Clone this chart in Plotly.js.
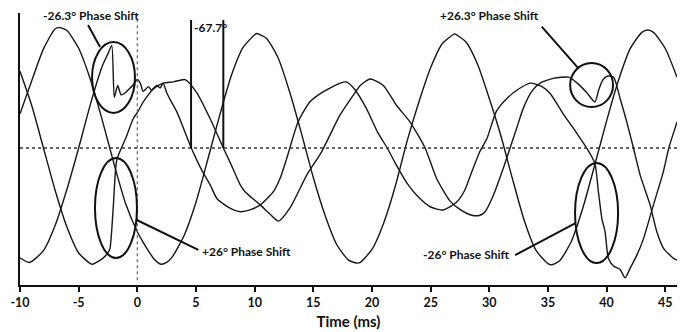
<!DOCTYPE html>
<html>
<head>
<meta charset="utf-8">
<script src="https://cdn.plot.ly/plotly-3.0.1.min.js"></script>
<style>html,body{margin:0;padding:0;background:#fff;}#chart{width:684px;height:332px;}</style>
</head>
<body>
<div id="chart"></div>
<script>
// Phase A (unfaulted phase)
const tA = [-10,-9,-8,-7,-6.6,-6,-5,-4,-3,-2,-1,0,0.5,1,1.5,2,2.5,3,4,5,6,7,8,9,10,10.2,11,12,13,14,15,16,17,18,18.7,19,20,21,22,23,24,25,26,27,27.1,28,29,30,31,32,33,34,35,35.3,36,37,38,39,40,41,42,43,43.5,44,45,46];
const vA = [0.29,0.57,0.84,1.01,1.02,0.995,0.845,0.58,0.24,-0.13,-0.47,-0.71,-0.8,-0.88,-0.95,-0.985,-0.97,-0.92,-0.74,-0.46,-0.1,0.27,0.61,0.85,0.96,0.97,0.93,0.765,0.47,0.12,-0.25,-0.57,-0.82,-0.95,-0.975,-0.97,-0.86,-0.635,-0.32,0.06,0.39,0.68,0.885,0.965,0.965,0.9,0.71,0.42,0.1,-0.27,-0.62,-0.87,-0.98,-0.99,-0.955,-0.79,-0.5,-0.14,0.23,0.57,0.84,0.98,1.0,0.98,0.843,0.6];

// Phase B
const tB = [-10,-9.2,-8,-7,-6,-5,-4,-3,-2.5,-2.18,-1.96,-1.67,-1.38,-1.0,-0.8,-0.4,0,0.25,0.5,0.95,1.2,1.65,1.95,2.2,2.5,2.8,3.4,4,4.6,5.4,6.2,6.8,7.9,8.8,9.6,10.5,11.6,12.2,12.73,13.7,14.7,15.9,17.3,17.8,18.5,19.5,20.5,21.3,22,23,24,25,26.1,27.2,27.9,28.4,29.2,29.8,30.6,31.5,32.5,33.5,34.5,35.2,36.3,37.46,38.3,39.0,39.3,39.6,39.87,40.15,40.58,41.15,41.58,42.0,42.57,43.14,44.0,44.84,45.3,45.84,46];
const vB = [-0.93,-0.97,-0.87,-0.655,-0.35,0,0.37,0.69,0.8,0.87,0.43,0.53,0.45,0.47,0.49,0.53,0.58,0.55,0.48,0.52,0.49,0.53,0.51,0.55,0.47,0.41,0.3,0.15,0,-0.17,-0.31,-0.43,-0.51,-0.54,-0.525,-0.48,-0.37,-0.25,-0.09,0.22,0.39,0.48,0.55,0.56,0.5,0.34,0.13,0,-0.13,-0.3,-0.42,-0.5,-0.525,-0.46,-0.36,-0.23,-0.03,0.08,0.31,0.42,0.5,0.55,0.52,0.46,0.29,0.125,0,-0.13,-0.37,-0.6,-0.71,-0.935,-1.0,-1.03,-1.1,-1.02,-0.91,-0.77,-0.48,-0.2,0,0.17,0.22];

// Phase C
const tC = [-10,-9,-8,-7,-6,-5,-4,-3.8,-3,-2.6,-2.35,-2.05,-1.75,-1,-0.34,0,0.51,1.36,2.2,3.07,4.07,5.06,6.2,7.33,7.9,8.76,9.18,10.46,11.3,12.02,13.0,14.44,15.72,17.28,18.56,19.0,19.84,20.97,22.1,23.25,24.53,25.52,26.66,27.5,28.5,29.2,29.64,30.35,31.2,31.77,32.34,32.91,33.62,34.33,35.47,36.74,37.5,38.3,39.0,39.35,39.7,40.1,40.6,41.15,41.72,42.29,42.86,43.7,44.28,44.85,45.7,46];
const vC = [0.65,0.36,0,-0.36,-0.67,-0.89,-0.98,-0.985,-0.94,-0.9,-0.86,-0.5,-0.1,0.08,0.25,0.3,0.39,0.5,0.55,0.56,0.58,0.47,0.25,0,-0.12,-0.31,-0.37,-0.48,-0.56,-0.62,-0.51,-0.23,-0.03,0.28,0.47,0.53,0.585,0.53,0.36,0.22,0,-0.26,-0.45,-0.52,-0.57,-0.57,-0.54,-0.4,-0.17,0,0.17,0.34,0.48,0.55,0.59,0.6,0.55,0.47,0.39,0.5,0.58,0.61,0.6,0.42,0.22,0,-0.23,-0.48,-0.71,-0.85,-0.935,-0.95];

// Axis ticks
const tickVals = [-10,-5,0,5,10,15,20,25,30,35,40,45];
const tickText = ["-10","-5","0","5","10","15","20","25","30","35","40","45"];

// Annotation labels
const labels = ["-26.3° Phase Shift","-67.7°","+26.3° Phase Shift","+26° Phase Shift","-26° Phase Shift"];
const xTitle = "Time (ms)";

const lineStyle = {color:'#161616', width:1.4, shape:'spline', smoothing:0.6};
const traces = [
  {x:tA, y:vA, mode:'lines', line:lineStyle, hoverinfo:'skip'},
  {x:tB, y:vB, mode:'lines', line:lineStyle, hoverinfo:'skip'},
  {x:tC, y:vC, mode:'lines', line:lineStyle, hoverinfo:'skip'}
];

const blk = {color:'#111', width:2};
const shapes = [
  {type:'line', xref:'x', yref:'y', x0:-10, x1:46, y0:0, y1:0, line:{color:'#333', width:1.3, dash:'dot'}},
  {type:'line', xref:'x', yref:'y', x0:0, x1:0, y0:-1.12, y1:1.13, line:{color:'#666', width:1.2, dash:'dot'}},
  {type:'line', xref:'x', yref:'y', x0:4.58, x1:4.58, y0:0, y1:1.085, line:blk},
  {type:'line', xref:'x', yref:'y', x0:7.33, x1:7.33, y0:0, y1:1.085, line:blk},
  {type:'circle', xref:'x', yref:'y', x0:-3.86, x1:-0.2, y0:0.297, y1:0.898, line:blk},
  {type:'circle', xref:'x', yref:'y', x0:36.89, x1:40.55, y0:0.347, y1:0.72, line:blk},
  {type:'circle', xref:'x', yref:'y', x0:-3.61, x1:-0.03, y0:-0.932, y1:-0.085, line:blk},
  {type:'circle', xref:'x', yref:'y', x0:37.31, x1:40.98, y0:-0.975, y1:-0.127, line:blk},
  {type:'line', xref:'x', yref:'y', x0:-4.2, y0:1.042, x1:-3.18, y1:0.856, line:blk},
  {type:'line', xref:'x', yref:'y', x0:34.47, y0:1.028, x1:37.6, y1:0.675, line:blk},
  {type:'line', xref:'x', yref:'y', x0:-0.05, y0:-0.61, x1:5.2, y1:-0.864, line:blk},
  {type:'line', xref:'x', yref:'y', x0:37.31, y0:-0.638, x1:32.2, y1:-0.907, line:blk}
];

const aFont = {family:'Lato, "Open Sans", sans-serif', size:12, color:'#111', weight:'bold'};
const annotations = [
  {x:-3.95, y:1.119, text:labels[0], xanchor:'center', yanchor:'middle'},
  {x:4.66, y:1.02, text:labels[1], xanchor:'left', yanchor:'middle'},
  {x:29.98, y:1.119, text:labels[2], xanchor:'center', yanchor:'middle'},
  {x:5.3, y:-0.88, text:labels[3], xanchor:'left', yanchor:'middle'},
  {x:31.85, y:-0.9, text:labels[4], xanchor:'right', yanchor:'middle'}
].map(a => Object.assign(a, {xref:'x', yref:'y', showarrow:false, font:aFont}));

const layout = {
  width:684, height:332,
  margin:{l:20, r:7, t:13, b:47},
  paper_bgcolor:'#fff', plot_bgcolor:'#fff',
  showlegend:false,
  xaxis:{
    range:[-10,46], tickvals:tickVals, ticktext:tickText,
    showline:true, linecolor:'#111', linewidth:2, mirror:false,
    ticks:'outside', ticklen:5, tickwidth:2, tickcolor:'#111',
    showgrid:false, zeroline:false,
    tickfont:{family:'Lato, "Open Sans", sans-serif', size:12.5, color:'#111', weight:'bold'},
    title:{text:'<b>'+xTitle+'</b>', font:{family:'Lato, "Open Sans", sans-serif', size:15, color:'#111'}, standoff:7}
  },
  yaxis:{
    range:[-1.161,1.144], showline:true, linecolor:'#111', linewidth:2,
    showticklabels:false, ticks:'', showgrid:false, zeroline:false
  },
  shapes:shapes,
  annotations:annotations
};

Plotly.newPlot('chart', traces, layout, {staticPlot:true, displayModeBar:false});
</script>
</body>
</html>
